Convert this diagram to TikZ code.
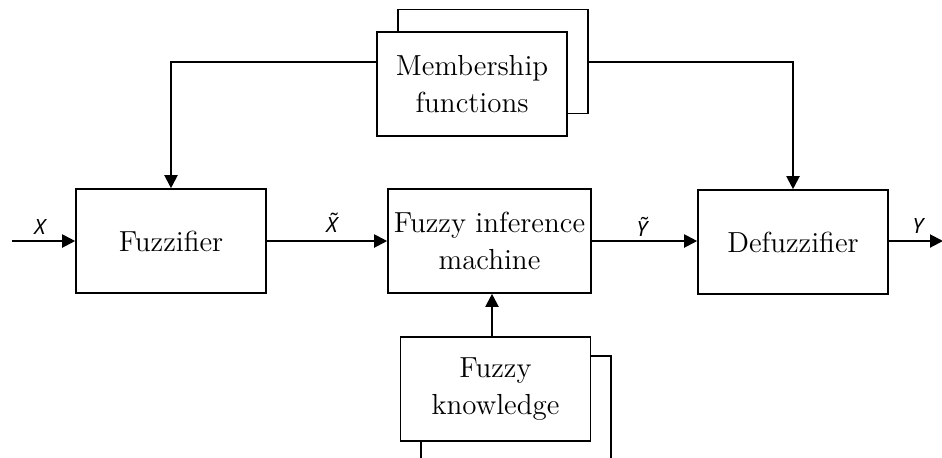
\documentclass[tikz,border=0pt]{standalone}
\usepackage{fontspec}
\newfontfamily\lblfont{Noto Sans}
\usepackage{tikz}
\usetikzlibrary{arrows.meta}

\tikzset{
  block/.style={draw, line width=0.8pt, fill=white, minimum width=95pt, minimum height=52pt,
    align=center, inner sep=2pt, font=\fontsize{14.5}{18.5}\selectfont},
  arr/.style={line width=1pt, -{Triangle[length=6.5pt,width=6.5pt]}},
  lbl/.style={font=\lblfont\itshape\fontsize{10.5}{12}\selectfont, inner sep=0pt}
}

\begin{document}
\begin{tikzpicture}[x=0.5pt,y=-0.5pt]
\clip (0,0) rectangle (942,457);
\fill[white] (0,0) rectangle (942,457);

\node[block] (fuzz) at (171,241) {Fuzzifier};
\node[block, minimum width=101.5pt] (fim) at (489.5,241) {Fuzzy inference\\machine};
\node[block] (defuzz) at (793,242) {Defuzzifier};

\node[block] (memback) at (493,61.5) {};
\node[block] (member) at (472,84) {Membership\\functions};

\node[block] (knowback) at (516,408) {};
\node[block] (know) at (495.5,389) {Fuzzy\\knowledge};

\coordinate (in) at (12,241);
\coordinate (out) at (943,241);

\draw[arr] (in) -- (fuzz.west);
\draw[arr] (fuzz.east) -- (fim.west);
\draw[arr] (fim.east) -- (defuzz.west |- fim.east);
\draw[arr] (defuzz.east |- out) -- (out);
\draw[arr] (member.west |- memback.west) -| (fuzz.north);
\draw[arr] (memback.east) -| (defuzz.north);
\draw[arr] (know.north -| 492,0) -- (fim.south -| 492,0);

\node[lbl] (xlbl) at (40,227) {X};
\node[lbl] (xtlbl) at (332,223) {X̃};
\node[lbl] (ytlbl) at (642,227) {Ỹ};
\node[lbl] (ylbl) at (918,226) {Y};
\end{tikzpicture}
\end{document}
